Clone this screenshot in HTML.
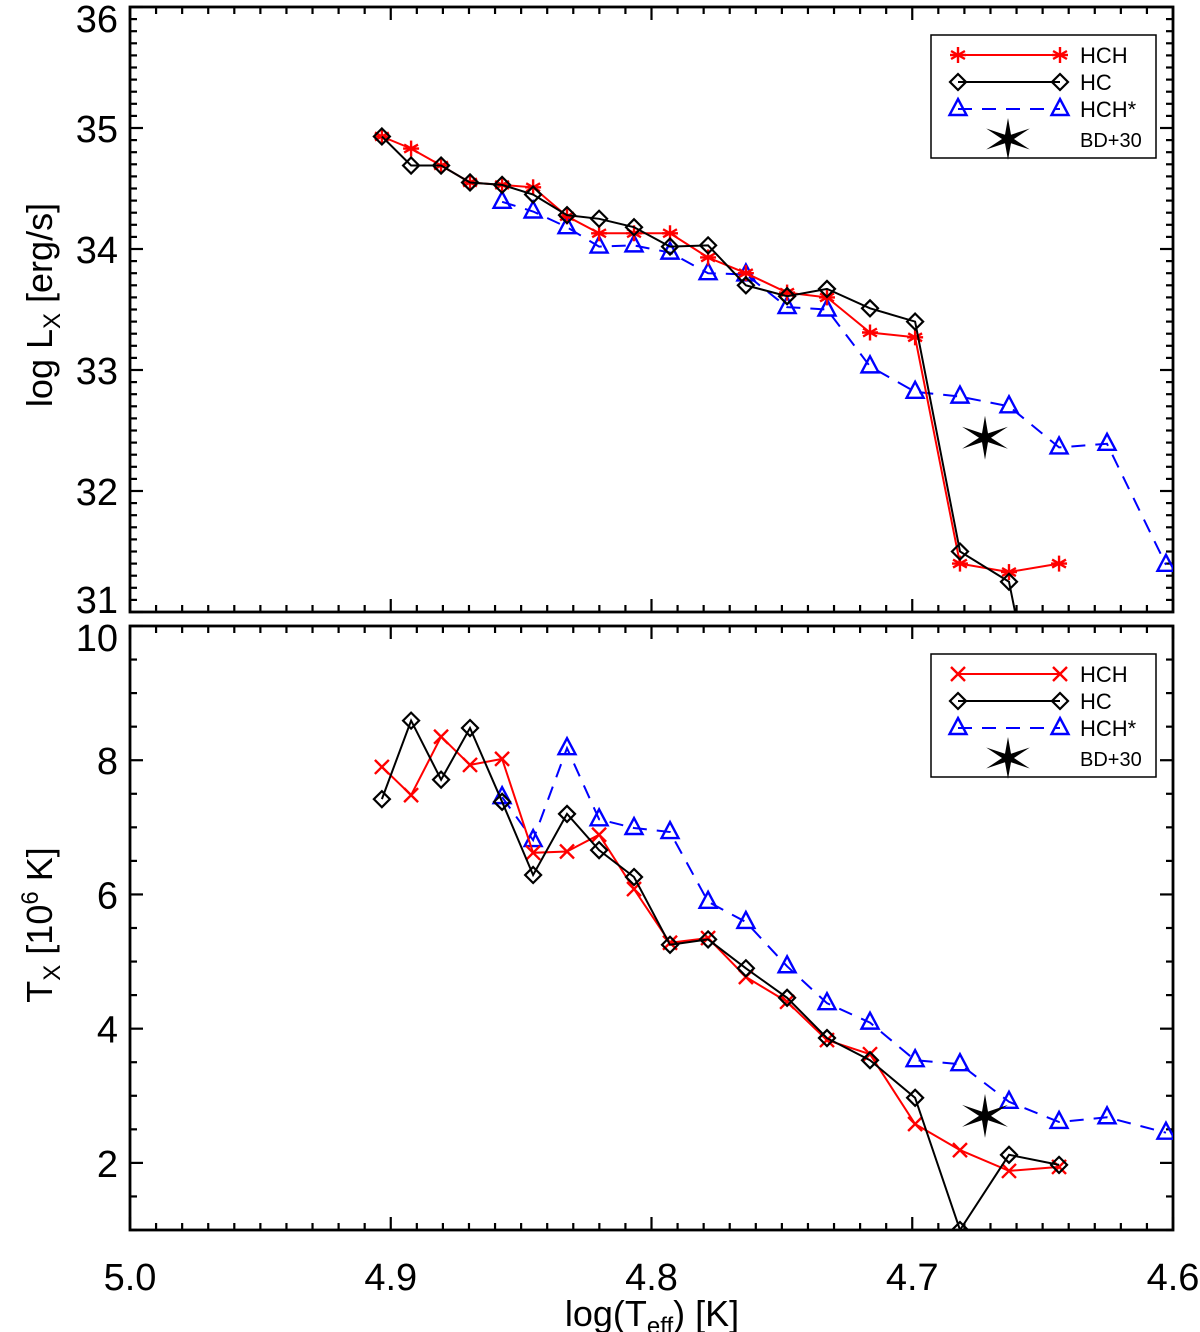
<!DOCTYPE html>
<html><head><meta charset="utf-8"><style>
body{margin:0;background:#fff}
svg{display:block;font-family:"Liberation Sans",Arial,sans-serif}
</style></head><body>
<svg id="c" width="1200" height="1332" viewBox="0 0 1200 1332"></svg>
<script>
const xVals=[4.9034,4.8922,4.8807,4.8696,4.8573,4.8454,4.8324,4.8201,4.8067,4.7929,4.7783,4.7638,4.7480,4.7327,4.7162,4.6989,4.6817,4.6629,4.6437,4.6253,4.6027];
const lxHCH=[34.93,34.83,34.69,34.55,34.53,34.51,34.27,34.13,34.13,34.13,33.93,33.80,33.64,33.60,33.31,33.27,31.40,31.33,31.40,null,null];
const lxHC=[34.93,34.69,34.69,34.55,34.53,34.45,34.28,34.25,34.18,34.02,34.03,33.70,33.61,33.67,33.51,33.40,31.50,31.25,29.2,null,null];
const lxHCHs=[null,null,null,null,34.39,34.31,34.18,34.02,34.03,33.97,33.80,33.79,33.52,33.50,33.03,32.82,32.78,32.70,32.36,32.39,31.39];
const txHCH=[7.90,7.48,8.35,7.93,8.02,6.62,6.64,6.89,6.08,5.28,5.35,4.77,4.40,3.83,3.62,2.58,2.19,1.88,1.94,null,null];
const txHC=[7.42,8.59,7.71,8.48,7.38,6.29,7.20,6.66,6.26,5.25,5.33,4.90,4.46,3.86,3.53,2.97,1.0,2.12,1.97,null,null];
const txHCHs=[null,null,null,null,7.45,6.81,8.18,7.12,6.99,6.93,5.89,5.59,4.93,4.38,4.09,3.53,3.47,2.91,2.61,2.68,2.45];
const bdX=[4.6721];
const bdLx=[32.44];
const bdTx=[2.70];
const xTicks=["5.0","4.9","4.8","4.7","4.6"];
const lxTicks=["31","32","33","34","35","36"];
const txTicks=["2","4","6","8","10"];

const svg=document.getElementById('c');
const NS='http://www.w3.org/2000/svg';
function mk(tag,attrs,parent){const e=document.createElementNS(NS,tag);for(const k in attrs)e.setAttribute(k,attrs[k]);(parent||svg).appendChild(e);return e;}
const X0=130,X1=1173;
const xs=v=>X0+(5.0-v)/(0.4)*(X1-X0);

const panels=[
 {top:7,bot:612,min:31,max:36,major:1,minor:0.1,ticks:lxTicks,series:[lxHCH,lxHC,lxHCHs],star:bdLx,redMark:'ast',name:'lx'},
 {top:626,bot:1230,min:1,max:10,major:2,minor:0.5,ticks:txTicks,series:[txHCH,txHC,txHCHs],star:bdTx,redMark:'x',name:'tx'}
];

function starPath(cx,cy,R,r){let p='';for(let i=0;i<12;i++){const a=Math.PI/2+i*Math.PI/6;const rr=i%2?r:R;const sx=1.2;p+=(i?'L':'M')+(cx+Math.cos(a)*rr*sx).toFixed(1)+','+(cy-Math.sin(a)*rr).toFixed(1);}return p+'Z';}
function marker(g,type,cx,cy,color){
 if(type==='ast'){const r=8;for(let i=0;i<3;i++){const a=Math.PI/2+i*Math.PI/3;mk('line',{x1:cx-Math.cos(a)*r,y1:cy-Math.sin(a)*r,x2:cx+Math.cos(a)*r,y2:cy+Math.sin(a)*r,stroke:color,'stroke-width':2.4},g);}mk('line',{x1:cx-8,y1:cy,x2:cx+8,y2:cy,stroke:color,'stroke-width':2.4},g);}
 else if(type==='x'){const r=7;mk('path',{d:`M${cx-r},${cy-r}L${cx+r},${cy+r}M${cx-r},${cy+r}L${cx+r},${cy-r}`,stroke:color,'stroke-width':2.4},g);}
 else if(type==='d'){const r=8;mk('path',{d:`M${cx},${cy-r}L${cx+r},${cy}L${cx},${cy+r}L${cx-r},${cy}Z`,fill:'none',stroke:color,'stroke-width':2.2},g);}
 else if(type==='t'){const r=10;mk('path',{d:`M${cx},${cy-r}L${cx+r*0.85},${cy+r*0.6}L${cx-r*0.85},${cy+r*0.6}Z`,fill:'none',stroke:color,'stroke-width':2.4},g);}
}

panels.forEach((P,pi)=>{
 const ys=v=>P.bot-(v-P.min)/(P.max-P.min)*(P.bot-P.top);
 const g=mk('g',{});
 
 
 const clipId='clip'+pi;
 const cp=mk('clipPath',{id:clipId},g);mk('rect',{x:X0,y:P.top,width:X1-X0,height:P.bot-P.top},cp);
 for(let k=0;k<=40;k++){const v=5.0-k*0.01;const x=xs(v);const L=k%10===0?13:7;
  mk('line',{x1:x,y1:P.bot,x2:x,y2:P.bot-L,stroke:'#000','stroke-width':2.2},g);
  mk('line',{x1:x,y1:P.top,x2:x,y2:P.top+L,stroke:'#000','stroke-width':2.2},g);}
 const nMin=Math.round((P.max-P.min)/P.minor);
 for(let k=0;k<=nMin;k++){const v=P.min+k*P.minor;const y=ys(v);
  const maj=pi===0?(Math.abs(v-Math.round(v))<1e-6):(Math.abs(v%2)<1e-6);const L=maj?13:7;
  mk('line',{x1:X0,y1:y,x2:X0+L,y2:y,stroke:'#000','stroke-width':2.2},g);
  mk('line',{x1:X1,y1:y,x2:X1-L,y2:y,stroke:'#000','stroke-width':2.2},g);}
 P.ticks.forEach(t=>{const v=+t;let y=ys(v)+14;
  if(v===P.max)y=P.top+25;
  if(v===P.min)y=P.bot+1;
  const e=mk('text',{x:118,y:y,'text-anchor':'end','font-size':38},g);e.textContent=t;
  });
 mk('rect',{x:X0,y:P.top,width:X1-X0,height:P.bot-P.top,fill:'none',stroke:'#000','stroke-width':2.8},g);
 const cfg=[{c:'#f00',m:P.redMark,dash:null,n:'hch'},{c:'#000',m:'d',dash:null,n:'hc'},{c:'#00f',m:'t',dash:'14,10',n:'hch-star'}];
 const sg=mk('g',{'clip-path':`url(#${clipId})`},g);
 [2,0,1].forEach(si=>{const arr=P.series[si];const C=cfg[si];
  let d='';arr.forEach((v,i)=>{if(v==null)return;d+=(d?'L':'M')+xs(xVals[i]).toFixed(1)+','+ys(v).toFixed(1);});
  const ln=mk('path',{d:d,fill:'none',stroke:C.c,'stroke-width':2},sg);if(C.dash)ln.setAttribute('stroke-dasharray',C.dash);
  
  arr.forEach((v,i)=>{if(v==null)return;const y=ys(v);if(y>P.bot+2)return;marker(sg,C.m,xs(xVals[i]),y,C.c);});
 });
 const st=mk('path',{d:starPath(xs(bdX[0]),ys(P.star[0]),22,5),fill:'#000'},g);
 
 const lo=P.top-7;const lg=mk('g',{},g);
 
 mk('rect',{x:931,y:lo+35,width:225,height:123,fill:'#fff',stroke:'#000','stroke-width':1.5},lg);
 const names=['HCH','HC','HCH*'];const ly=[55,82,109];
 cfg.forEach((C,i)=>{const y=lo+ly[i];const l=mk('line',{x1:958,y1:y,x2:1060,y2:y,stroke:C.c,'stroke-width':2},lg);if(C.dash)l.setAttribute('stroke-dasharray','14,10');
  marker(lg,C.m,958,y,C.c);marker(lg,C.m,1060,y,C.c);
  const t=mk('text',{x:1080,y:y+8,'font-size':22},lg);t.textContent=names[i];
  });
 mk('path',{d:starPath(1008,lo+139,21,5),fill:'#000'},lg);
 const t=mk('text',{x:1080,y:lo+147,'font-size':20},lg);t.textContent='BD+30';
 
});
xTicks.forEach(t=>{const e=mk('text',{x:xs(+t),y:1290,'text-anchor':'middle','font-size':38});e.textContent=t;
 });
</script>
<div style="position:absolute;left:0;top:0;width:1200px;height:1332px;pointer-events:none">
<svg width="1200" height="1332" style="position:absolute;left:0;top:0">
<text x="652" y="1326" text-anchor="middle" font-size="36" font-family="Liberation Sans, sans-serif">log(T<tspan font-size="24" dy="8">eff</tspan><tspan dy="-8">) [K]</tspan></text>
<text transform="translate(52,305) rotate(-90)" text-anchor="middle" font-size="36" font-family="Liberation Sans, sans-serif">log L<tspan font-size="24" dy="8">X</tspan><tspan dy="-8">  [erg/s]</tspan></text>
<text transform="translate(52,925) rotate(-90)" text-anchor="middle" font-size="36" font-family="Liberation Sans, sans-serif">T<tspan font-size="24" dy="8">X</tspan><tspan dy="-8"> [10</tspan><tspan font-size="24" dy="-14">6</tspan><tspan dy="14"> K]</tspan></text>
</svg></div>
</body></html>
